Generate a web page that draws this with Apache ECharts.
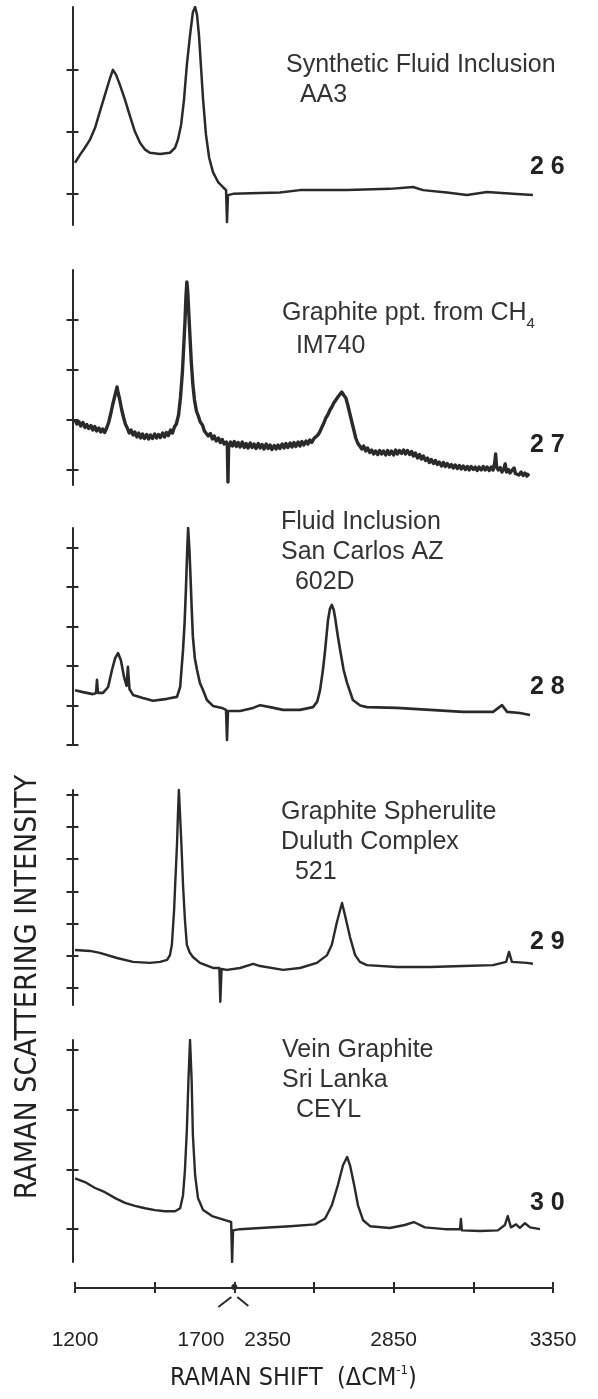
<!DOCTYPE html>
<html>
<head>
<meta charset="utf-8">
<script src="https://cdn.jsdelivr.net/npm/echarts@6/dist/echarts.min.js"></script>
<style>
  html, body { margin: 0; padding: 0; background: #fff; }
  #chart { width: 598px; height: 1399px; }
</style>
</head>
<body>
<div id="chart"></div>
<script>
  // raman shift (cm-1) vs relative intensity
  const aa3 = [
    [1200, 0.50], [1216, 0.63], [1231, 0.74], [1247, 0.87], [1263, 1.06], [1278, 1.32], [1294, 1.59],
    [1310, 1.86], [1319, 1.99], [1329, 1.91], [1341, 1.75], [1357, 1.51], [1373, 1.24], [1388, 1.00],
    [1404, 0.82], [1420, 0.71], [1435, 0.66], [1467, 0.64], [1498, 0.66], [1514, 0.74], [1523, 0.87],
    [1533, 1.11], [1542, 1.51], [1551, 2.07], [1561, 2.55], [1570, 2.92], [1577, 3.00], [1583, 2.87],
    [1589, 2.55], [1595, 2.07], [1602, 1.51], [1611, 0.95], [1621, 0.58], [1633, 0.35], [1649, 0.19],
    [1664, 0.11], [1674, 0.06], [1677, -0.45], [1680, -0.02], [1696, 0.00], [2400, 0.01], [2493, 0.02],
    [2556, 0.06], [2704, 0.06], [2838, 0.08], [2911, 0.11], [2942, 0.06], [3017, 0.02], [3080, -0.02],
    [3143, 0.03], [3224, 0.00], [3287, -0.02]
  ];
  const im740 = [
    [1200, 1.00], [1206, 0.92], [1212, 0.97], [1218, 0.88], [1225, 0.95], [1231, 0.85], [1237, 0.91],
    [1243, 0.83], [1250, 0.89], [1256, 0.80], [1262, 0.87], [1268, 0.78], [1275, 0.84], [1281, 0.76],
    [1287, 0.82], [1293, 0.75], [1300, 0.85], [1306, 0.96], [1312, 1.12], [1318, 1.30], [1325, 1.48],
    [1329, 1.58], [1332, 1.66], [1335, 1.55], [1340, 1.42], [1346, 1.22], [1352, 1.06], [1358, 0.92],
    [1364, 0.84], [1370, 0.74], [1376, 0.80], [1382, 0.70], [1388, 0.76], [1394, 0.66], [1400, 0.74],
    [1406, 0.64], [1412, 0.72], [1418, 0.63], [1425, 0.71], [1431, 0.62], [1437, 0.70], [1443, 0.63],
    [1450, 0.72], [1456, 0.64], [1462, 0.71], [1468, 0.65], [1475, 0.74], [1481, 0.66], [1487, 0.75],
    [1493, 0.69], [1500, 0.80], [1506, 0.74], [1512, 0.86], [1518, 0.92], [1525, 1.10], [1531, 1.45],
    [1537, 1.95], [1541, 2.45], [1545, 2.95], [1548, 3.45], [1551, 3.76], [1554, 3.55], [1557, 3.15],
    [1561, 2.65], [1565, 2.15], [1570, 1.70], [1575, 1.40], [1581, 1.18], [1587, 1.08], [1593, 0.96],
    [1600, 0.90], [1606, 0.78], [1612, 0.82], [1618, 0.68], [1625, 0.73], [1631, 0.62], [1637, 0.68],
    [1643, 0.58], [1650, 0.64], [1656, 0.55], [1662, 0.61], [1668, 0.52], [1675, 0.56], [1678, 0.50],
    [1680, -0.24], [1682, 0.45], [1688, 0.56], [1694, 0.48], [1700, 0.57],
    [2356, 0.47], [2362, 0.55], [2368, 0.46], [2375, 0.56], [2381, 0.45], [2387, 0.53], [2393, 0.44],
    [2400, 0.54], [2406, 0.45], [2412, 0.52], [2418, 0.43], [2425, 0.53], [2431, 0.44], [2437, 0.51],
    [2443, 0.42], [2450, 0.52], [2456, 0.43], [2462, 0.50], [2468, 0.41], [2475, 0.49], [2481, 0.42],
    [2487, 0.50], [2493, 0.43], [2500, 0.52], [2506, 0.44], [2512, 0.53], [2518, 0.45], [2525, 0.54],
    [2531, 0.46], [2537, 0.55], [2543, 0.47], [2550, 0.56], [2556, 0.48], [2562, 0.57], [2568, 0.50],
    [2575, 0.58], [2581, 0.52], [2587, 0.60], [2593, 0.55], [2600, 0.63], [2606, 0.62], [2612, 0.70],
    [2618, 0.76], [2625, 0.86], [2631, 0.94], [2637, 1.04], [2643, 1.10], [2650, 1.20], [2656, 1.26],
    [2662, 1.34], [2668, 1.38], [2675, 1.46], [2681, 1.48], [2687, 1.56], [2693, 1.50], [2700, 1.44],
    [2706, 1.30], [2712, 1.14], [2718, 0.98], [2725, 0.80], [2731, 0.64], [2737, 0.54], [2743, 0.50],
    [2750, 0.42], [2756, 0.48], [2762, 0.38], [2768, 0.44], [2775, 0.35], [2781, 0.40], [2787, 0.32],
    [2793, 0.38], [2800, 0.31], [2806, 0.39], [2812, 0.32], [2818, 0.38], [2825, 0.30], [2831, 0.39],
    [2837, 0.31], [2843, 0.38], [2850, 0.30], [2856, 0.40], [2862, 0.32], [2868, 0.39], [2875, 0.33],
    [2881, 0.40], [2887, 0.32], [2893, 0.39], [2900, 0.31], [2906, 0.37], [2912, 0.28], [2918, 0.34],
    [2925, 0.24], [2931, 0.31], [2937, 0.22], [2943, 0.28], [2950, 0.19], [2956, 0.24], [2962, 0.15],
    [2968, 0.21], [2975, 0.13], [2981, 0.19], [2987, 0.11], [2993, 0.16], [3000, 0.08], [3006, 0.15],
    [3012, 0.07], [3018, 0.13], [3025, 0.06], [3031, 0.11], [3037, 0.04], [3043, 0.10], [3050, 0.03],
    [3056, 0.09], [3062, 0.02], [3068, 0.08], [3075, 0.01], [3081, 0.07], [3087, 0.00], [3093, 0.07],
    [3100, 0.01], [3106, 0.06], [3112, -0.01], [3118, 0.06], [3125, 0.00], [3131, 0.07], [3137, 0.00],
    [3143, 0.06], [3150, -0.01], [3156, 0.06], [3162, 0.00], [3167, 0.14], [3170, 0.32], [3173, 0.06],
    [3178, 0.00], [3184, 0.05], [3190, -0.04], [3196, 0.03], [3200, 0.12], [3204, -0.04], [3210, 0.01],
    [3215, -0.06], [3221, -0.01], [3228, 0.04], [3232, -0.07], [3237, -0.03], [3243, -0.10], [3250, -0.04],
    [3256, -0.11], [3262, -0.06], [3268, -0.12], [3275, -0.07]
  ];
  const s602d = [
    [1200, 1.39], [1225, 1.34], [1256, 1.29], [1266, 1.32], [1269, 1.65], [1272, 1.32], [1288, 1.32],
    [1304, 1.47], [1316, 1.90], [1326, 2.20], [1335, 2.33], [1344, 2.15], [1354, 1.72], [1362, 1.50],
    [1366, 1.98], [1371, 1.42], [1382, 1.27], [1413, 1.19], [1445, 1.12], [1489, 1.17], [1520, 1.22],
    [1530, 1.47], [1539, 2.41], [1544, 3.10], [1548, 3.93], [1552, 4.90], [1555, 5.50], [1559, 4.95],
    [1562, 4.36], [1566, 3.50], [1570, 2.74], [1576, 2.20], [1583, 1.90], [1592, 1.57], [1602, 1.39],
    [1614, 1.14], [1633, 0.99], [1661, 0.94], [1674, 0.89], [1677, 0.13], [1680, 0.86],
    [2368, 0.86], [2409, 0.94], [2431, 1.01], [2462, 0.96], [2503, 0.89], [2556, 0.89], [2597, 0.96],
    [2610, 1.10], [2619, 1.39], [2628, 1.90], [2635, 2.41], [2644, 3.17], [2650, 3.45], [2656, 3.55],
    [2662, 3.42], [2666, 3.24], [2674, 2.80], [2682, 2.41], [2693, 1.90], [2704, 1.57], [2722, 1.14],
    [2745, 1.00], [2766, 0.96], [2860, 0.94], [2964, 0.89], [3068, 0.84], [3162, 0.84], [3190, 1.01],
    [3206, 0.84], [3246, 0.81], [3278, 0.76]
  ];
  const s521 = [
    [1200, 1.18], [1247, 1.15], [1278, 1.09], [1332, 0.93], [1382, 0.81], [1435, 0.78], [1467, 0.81],
    [1489, 0.87], [1498, 1.02], [1504, 1.34], [1511, 2.42], [1515, 3.35], [1520, 4.44], [1523, 5.37],
    [1526, 6.15], [1529, 5.53], [1534, 4.44], [1539, 3.20], [1545, 2.11], [1551, 1.34], [1560, 1.10],
    [1570, 0.96], [1592, 0.78], [1633, 0.62], [1653, 0.62], [1656, -0.43], [1660, 0.59], [1677, 0.56],
    [2368, 0.62], [2409, 0.75], [2431, 0.68], [2503, 0.56], [2556, 0.62], [2609, 0.78], [2641, 1.02],
    [2656, 1.34], [2672, 2.05], [2682, 2.42], [2688, 2.64], [2697, 2.27], [2713, 1.58], [2729, 1.02],
    [2744, 0.81], [2766, 0.71], [2860, 0.65], [2964, 0.65], [3068, 0.68], [3162, 0.71], [3203, 0.81],
    [3212, 1.12], [3221, 0.81], [3268, 0.78], [3287, 0.75]
  ];
  const ceyl = [
    [1200, 0.85], [1231, 0.79], [1263, 0.69], [1294, 0.62], [1326, 0.52], [1357, 0.44], [1388, 0.39],
    [1420, 0.35], [1451, 0.32], [1482, 0.30], [1514, 0.30], [1530, 0.35], [1539, 0.57], [1545, 0.99],
    [1551, 1.66], [1556, 2.50], [1561, 3.17], [1566, 2.50], [1570, 1.57], [1577, 0.90], [1586, 0.52],
    [1602, 0.32], [1630, 0.22], [1671, 0.15], [1690, 0.12], [1693, -0.55], [1696, -0.02],
    [2368, 0.00], [2431, 0.02], [2525, 0.05], [2603, 0.08], [2635, 0.18], [2656, 0.40], [2675, 0.74],
    [2691, 1.07], [2704, 1.21], [2713, 1.07], [2726, 0.74], [2738, 0.40], [2754, 0.15], [2776, 0.05],
    [2838, 0.02], [2885, 0.07], [2913, 0.12], [2948, 0.03], [3011, 0.00], [3058, 0.00], [3061, 0.17],
    [3064, -0.02], [3121, -0.03], [3177, -0.02], [3199, 0.07], [3208, 0.22], [3218, 0.03], [3234, 0.08],
    [3246, 0.02], [3262, 0.10], [3278, 0.03], [3309, 0.00]
  ];

  const sampleNames = [
    ['Synthetic Fluid Inclusion', '  AA3'],
    ['Graphite ppt. from CH{sub|4}', '  IM740'],
    ['Fluid Inclusion', 'San Carlos AZ', '  602D'],
    ['Graphite Spherulite', 'Duluth Complex', '  521'],
    ['Vein Graphite', 'Sri Lanka', '  CEYL']
  ];
  const spectrumNos = ['2 6', '2 7', '2 8', '2 9', '3 0'];
  const shiftLabels = [1200, 1700, 2350, 2850, 3350];
  const BREAK_LO = 1700, BREAK_HI = 2350;

  // axis is broken between 1700 and 2350
  const toAxis = w => (w <= BREAK_LO ? w : w - (BREAK_HI - BREAK_LO));
  const fromAxis = v => (v <= BREAK_LO ? v : v + (BREAK_HI - BREAK_LO));

  const ink = '#2a2a2a';
  const font = 'Liberation Sans, Arial, Helvetica, sans-serif';
  const narrow = 'Liberation Sans Narrow, DejaVu Sans Condensed, Arial Narrow, sans-serif';

  const panels = [
    {data: aa3, top: 7, h: 218, min: -0.5, max: 3, ticks: [0, 1, 2], lw: 2.5, labelX: 286, labelTop: 50, noY: 155},
    {data: im740, top: 270, h: 215, min: -0.3, max: 4, ticks: [0, 1, 2, 3], lw: 3.4, labelX: 282, labelTop: 295, noY: 433},
    {data: s602d, top: 528, h: 217, min: 0, max: 5.5, ticks: [0, 1, 2, 3, 4, 5], lw: 2.6, labelX: 281, labelTop: 507, noY: 675},
    {data: s521, top: 790, h: 215, min: -0.53, max: 6.15, ticks: [0, 1, 2, 3, 4, 5, 6], lw: 2.4, labelX: 281, labelTop: 797, noY: 930},
    {data: ceyl, top: 1040, h: 222, min: -0.55, max: 3.17, ticks: [0, 1, 2, 3], lw: 2.4, labelX: 282, labelTop: 1035, noY: 1191}
  ];

  const chart = echarts.init(document.getElementById('chart'));

  const grid = [], xAxis = [], yAxis = [], series = [], graphic = [];
  panels.forEach((p, i) => {
    grid.push({left: 75, width: 478, top: p.top, height: p.h});
    xAxis.push({gridIndex: i, type: 'value', min: 1200, max: 2700, show: false});
    [false, true].forEach(inside => {
      yAxis.push({
        gridIndex: i, type: 'value', position: 'left', min: p.min, max: p.max, offset: 2.5,
        axisLine: {show: !inside, lineStyle: {color: ink, width: 2}},
        axisTick: {show: true, inside: inside, customValues: p.ticks, length: 6, lineStyle: {color: ink, width: 2}},
        axisLabel: {show: false},
        splitLine: {show: false}
      });
    });
    series.push({
      type: 'line', xAxisIndex: i, yAxisIndex: i * 2, showSymbol: false, animation: false,
      data: p.data.map(d => [toAxis(d[0]), d[1]]),
      lineStyle: {color: ink, width: p.lw, join: 'round'}
    });
    graphic.push({
      type: 'text', left: p.labelX, top: p.labelTop,
      style: {
        text: sampleNames[i].join('\n'), font: '25px ' + font, fill: '#333', lineHeight: 30,
        rich: {sub: {fontSize: 15, fontFamily: font, fill: '#333', verticalAlign: 'bottom', lineHeight: 36}}
      }
    });
    graphic.push({
      type: 'text', left: 530, top: p.noY,
      style: {text: spectrumNos[i], font: 'bold 25px ' + font, fill: '#222'}
    });
  });

  // shared shift axis at the bottom
  grid.push({left: 75, width: 478, top: 1287, height: 1});
  xAxis.push({
    gridIndex: 5, type: 'value', min: 1200, max: 2700, interval: 250, position: 'bottom',
    axisLine: {lineStyle: {color: ink, width: 2}},
    axisTick: {length: 5, lineStyle: {color: ink, width: 2}},
    splitLine: {show: false},
    axisLabel: {
      margin: 42, color: '#222', fontSize: 21, fontFamily: font,
      formatter: v => {
        const w = fromAxis(v);
        if (v === BREAK_LO) return '{a|' + BREAK_LO + '}{g|}{a|' + BREAK_HI + '}';
        return shiftLabels.indexOf(w) >= 0 ? String(w) : '';
      },
      rich: {a: {fontSize: 21, fontFamily: font, color: '#222'}, g: {width: 20}}
    }
  });
  xAxis.push({
    gridIndex: 5, type: 'value', min: 1200, max: 2700, interval: 250, position: 'top',
    axisLine: {show: false},
    axisTick: {length: 5, lineStyle: {color: ink, width: 2}},
    axisLabel: {show: false}, splitLine: {show: false}
  });
  yAxis.push({gridIndex: 5, show: false});

  graphic.push({
    type: 'text', left: 170, top: 1364,
    style: {
      text: 'RAMAN SHIFT  (\u0394CM{sup|-1})', font: '25px ' + narrow, fill: '#222', lineHeight: 28,
      rich: {sup: {fontSize: 13, fontFamily: narrow, fill: '#222', verticalAlign: 'top', lineHeight: 28}}
    }
  });
  graphic.push({
    type: 'text', x: 28, y: 987, rotation: Math.PI / 2,
    style: {text: 'RAMAN SCATTERING INTENSITY', font: '30px ' + narrow, fill: '#222', align: 'center', verticalAlign: 'middle'}
  });

  chart.setOption({animation: false, grid, xAxis, yAxis, series, graphic});

  // break mark on the shift axis
  const bx = chart.convertToPixel({xAxisIndex: 5}, BREAK_LO);
  const by = 1287;
  chart.setOption({
    graphic: graphic.concat([
      {type: 'circle', shape: {cx: bx, cy: by, r: 3}, style: {fill: ink}},
      {type: 'line', shape: {x1: bx - 16, y1: by + 20, x2: bx - 3, y2: by + 10}, style: {stroke: ink, lineWidth: 2}},
      {type: 'line', shape: {x1: bx + 3, y1: by + 10, x2: bx + 14, y2: by + 19}, style: {stroke: ink, lineWidth: 2}}
    ])
  });
</script>
</body>
</html>
